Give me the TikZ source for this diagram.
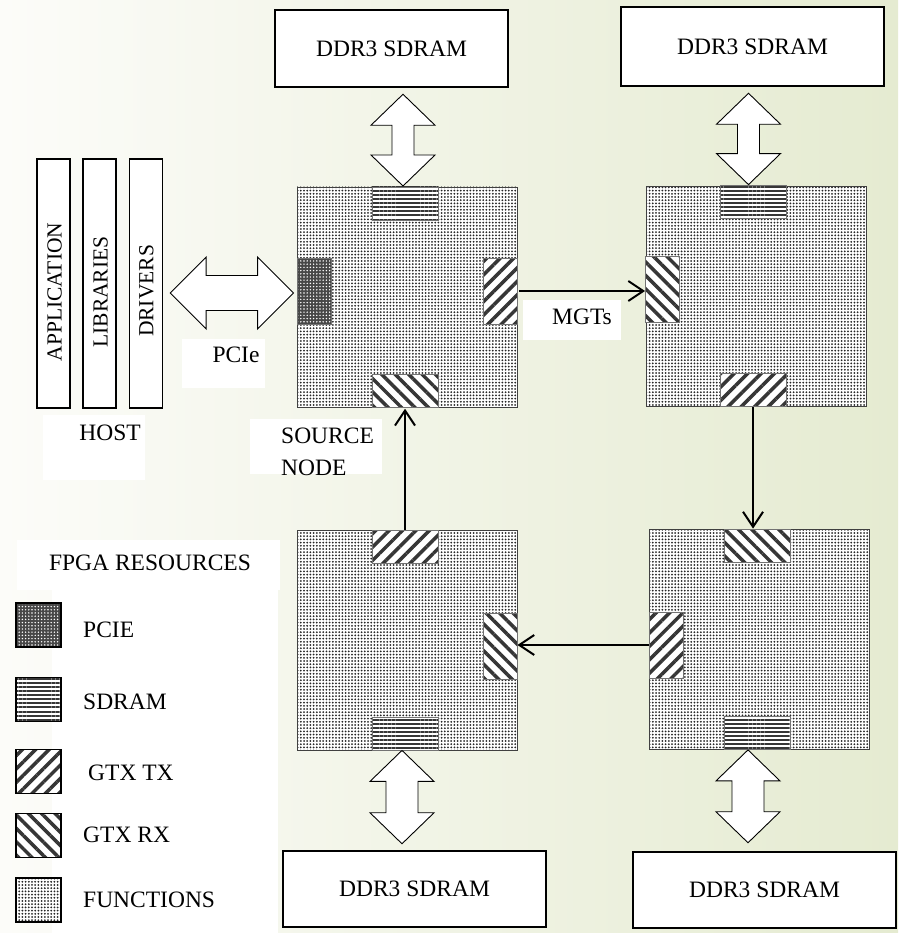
\documentclass[tikz,border=0pt]{standalone}
\usepackage{fontspec}
\setmainfont{Liberation Serif}
\usetikzlibrary{patterns.meta,arrows.meta,calc}
\definecolor{bgL}{HTML}{FCFCF9}
\definecolor{bgR}{HTML}{E5EBD1}
\definecolor{stripe}{HTML}{363636}
\tikzset{
 txt/.style={font=\fontsize{23.5}{32}\selectfont, inner sep=0pt},
 ddr/.style={draw=black, line width=2.5pt, fill=white, txt},
 dotsf/.style={preaction={fill=white}, pattern={Dots[distance=3.2pt,radius=1.0pt]}, pattern color=black!85},
 funcs/.style={draw=black!75, line width=0.8pt, dotsf, minimum width=220pt, minimum height=220pt, inner sep=0pt},
 blk/.style={draw=black!55, line width=0.8pt, inner sep=0pt},
 hblk/.style={blk, minimum width=66pt, minimum height=33pt},
 vblk/.style={blk, minimum width=34pt, minimum height=66pt},
 sdramf/.style={preaction={fill=white}, pattern={Lines[angle=0,distance=4.1pt,line width=2pt]}, pattern color=stripe},
 pcief/.style={preaction={fill=black!72}, pattern={Dots[distance=3.2pt,radius=0.8pt]}, pattern color=white},
 txf/.style={preaction={fill=white}, pattern={Lines[angle=45,distance=9.5pt,line width=3.5pt]}, pattern color=stripe},
 rxf/.style={preaction={fill=white}, pattern={Lines[angle=-45,distance=9.5pt,line width=3.5pt]}, pattern color=stripe},
 link/.style={line width=2pt, -{Straight Barb[length=15pt,width=20pt,line width=2pt]}},
 dbl/.style={draw=black, line width=0.9pt, fill=white, line join=miter},
 bar/.style={draw=black, line width=1.3pt, fill=white, minimum width=33pt, minimum height=249pt, inner sep=0pt},
 bartxt/.style={font=\fontsize{21.5}{25}\selectfont, rotate=90, inner sep=0pt},
 wbox/.style={fill=white, inner sep=0pt},
 swatch/.style={draw=black, line width=1.3pt, minimum width=45pt, minimum height=44pt, inner sep=0pt},
}
\newcommand\dblV[4]{\draw[dbl] let \p1=(#1), \p2=(#2), \p3=(#3) in
 (\x1,\y2) -- (\x1+32pt,\y2-31pt) -- (\x1+#4,\y2-31pt) -- (\x1+#4,\y3+31pt) -- (\x1+32pt,\y3+31pt) --
 (\x1,\y3) -- (\x1-32pt,\y3+31pt) -- (\x1-#4,\y3+31pt) -- (\x1-#4,\y2-31pt) -- (\x1-32pt,\y2-31pt) -- cycle;}
\begin{document}
\begin{tikzpicture}[x=1pt,y=-1pt]
\useasboundingbox (0,0) rectangle (898,933);
\shade[left color=bgL, right color=bgR] (0,0) rectangle (898,933);

% white label backgrounds
\node[wbox, minimum width=263pt, minimum height=50pt] (wres) at (148.5,565) {};
\node[wbox, minimum width=226pt, minimum height=343pt] (wleg) at (165,761.5) {};
\node[wbox, minimum width=83pt, minimum height=49pt] (wpcie) at (223.5,363.5) {};
\node[wbox, minimum width=102pt, minimum height=65pt] (whost) at (94,447.5) {};
\node[wbox, minimum width=132pt, minimum height=55pt] (wsrc) at (316,446.5) {};
\node[wbox, minimum width=98pt, minimum height=40pt] (wmgt) at (572,320) {};

% DDR3 boxes
\node[ddr, minimum width=233pt, minimum height=77pt] (ddrA) at (391.5,48.5) {DDR3 SDRAM};
\node[ddr, minimum width=263pt, minimum height=79pt] (ddrB) at (752.5,46.5) {DDR3 SDRAM};
\node[ddr, minimum width=263pt, minimum height=76pt] (ddrD) at (414.5,889) {DDR3 SDRAM};
\node[ddr, minimum width=263pt, minimum height=76pt] (ddrC) at (764.5,890) {DDR3 SDRAM};

% FPGA nodes
\node[funcs] (A) at (407,297) {};
\node[funcs] (B) at (756,296) {};
\node[funcs] (C) at (759.5,639) {};
\node[funcs] (D) at (407,640) {};

\node[hblk, sdramf] (Asd) at (405,203.5) {};
\node[vblk, pcief] (Apc) at (314,291) {};
\node[vblk, txf] (Atx) at (500,291) {};
\node[hblk, rxf] (Arx) at (405,390.5) {};

\node[hblk, sdramf] (Bsd) at (753.5,201.5) {};
\node[vblk, rxf] (Brx) at (662.5,289) {};
\node[hblk, txf] (Btx) at (753,390) {};

\node[hblk, rxf] (Crx) at (757,545.5) {};
\node[vblk, txf] (Ctx) at (666.5,645) {};
\node[hblk, sdramf] (Csd) at (757,733) {};

\node[hblk, txf] (Dtx) at (405,546.5) {};
\node[vblk, rxf] (Drx) at (500,646.5) {};
\node[hblk, sdramf] (Dsd) at (405,733.5) {};

% MGT links
\draw[link] (Atx.east) -- (Atx.east -| Brx.west);
\draw[link] (Btx.south) -- (Btx.south |- Crx.north);
\draw[link] (Ctx.west) -- (Ctx.west -| Drx.east);
\draw[link] (Dtx.north) -- (Dtx.north |- Arx.south);

% memory double arrows
\dblV{$(Asd.north)+(-2,0)$}{$(ddrA.south)+(0,6)$}{Asd.north}{11pt}
\dblV{$(Bsd.north)+(-5,0)$}{$(ddrB.south)+(0,6)$}{Bsd.north}{11pt}
\dblV{$(Csd.south)+(-9,0)$}{Csd.south}{$(ddrC.north)+(0,-8)$}{16pt}
\dblV{$(Dsd.south)+(-3,0)$}{Dsd.south}{$(ddrD.north)+(0,-6)$}{16pt}

% host
\node[bar] (app) at (53.5,283.5) {};
\node[bar] (lib) at (99.5,283.5) {};
\node[bar] (drv) at (146,283.5) {};
\node[bartxt] (appT) at (54.5,292) {APPLICATION};
\node[bartxt] (libT) at (100.5,292) {LIBRARIES};
\node[bartxt] (drvT) at (146.5,291) {DRIVERS};

% PCIe double arrow
\draw[dbl] let \p1=($(drv.east)+(7,0)$), \p2=($(Apc.west)+(-3,2)$) in
 (\x1,\y2) -- (\x1+36pt,\y2+36pt) -- (\x1+36pt,\y2+17.5pt) -- (\x2-36pt,\y2+17.5pt) -- (\x2-36pt,\y2+36pt) --
 (\x2,\y2) -- (\x2-36pt,\y2-36pt) -- (\x2-36pt,\y2-17.5pt) -- (\x1+36pt,\y2-17.5pt) -- (\x1+36pt,\y2-36pt) -- cycle;

% labels
\node[txt] (hostT) at (110,433) {HOST};
\node[txt] (pcieT) at (236,355) {PCIe};
\node[txt] (mgtT) at (582,317) {MGTs};
\node[txt, align=left, anchor=west] (srcT) at (281,452) {SOURCE\\NODE};

% legend
\node[txt] (resT) at (150,563) {FPGA RESOURCES};
\node[swatch, pcief] (lp) at (38.5,625) {};
\node[swatch, sdramf] (ls) at (38.5,699.5) {};
\node[swatch, txf] (lt) at (38.5,771.5) {};
\node[swatch, rxf] (lr) at (38.5,835.5) {};
\node[swatch, dotsf] (lf) at (38.5,900) {};
\node[txt, anchor=west] (lpT) at (83,630) {PCIE};
\node[txt, anchor=west] (lsT) at (83,702) {SDRAM};
\node[txt, anchor=west] (ltT) at (88,773) {GTX TX};
\node[txt, anchor=west] (lrT) at (83,835) {GTX RX};
\node[txt, anchor=west] (lfT) at (83,900) {FUNCTIONS};
\end{tikzpicture}
\end{document}
